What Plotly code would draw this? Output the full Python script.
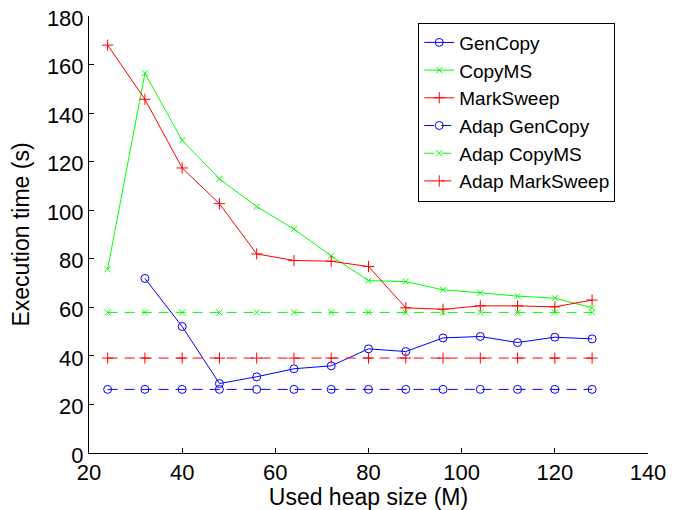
import plotly.graph_objects as go

heap = [24, 32, 40, 48, 56, 64, 72, 80, 88, 96, 104, 112, 120, 128]
gencopy_x = heap[1:]
gencopy = [71.9, 52.1, 28.6, 31.4, 34.7, 35.9, 42.9, 41.8, 47.4, 48.0, 45.5, 47.7, 47.0]
copyms = [75.7, 156.4, 128.8, 112.9, 101.5, 92.2, 81.2, 71.0, 70.6, 67.2, 66.0, 64.6, 63.8, 59.8]
marksweep = [168.0, 145.7, 117.4, 102.7, 82.0, 79.3, 79.0, 76.8, 59.8, 59.2, 60.6, 60.6, 60.2, 63.0]
adap_gencopy = [26.2] * len(heap)
adap_copyms = [57.9] * len(heap)
adap_marksweep = [39.1] * len(heap)

BLUE, GREEN, RED = "#0000ff", "#00ff00", "#ff0000"
DASH = "10px,7px"

series = [
    ("GenCopy", gencopy_x, gencopy, BLUE, "circle-open", "solid", 8),
    ("CopyMS", heap, copyms, GREEN, "x-thin-open", "solid", 6),
    ("MarkSweep", heap, marksweep, RED, "cross-thin-open", "solid", 8),
    ("Adap GenCopy", heap, adap_gencopy, BLUE, "circle-open", DASH, 8),
    ("Adap CopyMS", heap, adap_copyms, GREEN, "x-thin-open", DASH, 6),
    ("Adap MarkSweep", heap, adap_marksweep, RED, "cross-thin-open", DASH, 8),
]

fig = go.Figure()
for name, xs, ys, col, sym, dash, size in series:
    fig.add_trace(go.Scatter(
        x=xs, y=ys, name=name, mode="lines+markers",
        line=dict(color=col, width=1, dash=dash),
        marker=dict(symbol=sym, size=size, color=col, line=dict(color=col, width=1)),
    ))

FAM = "Liberation Sans, Arial, Helvetica, sans-serif"
tickfont = dict(family=FAM, size=22, color="black")
titlefont = dict(family=FAM, size=23, color="black")

# the page body has an 8px margin, so the figure is offset by 8px
fig.update_layout(
    width=672, height=502,
    margin=dict(l=81, r=32, t=8, b=57),
    paper_bgcolor="white", plot_bgcolor="white",
    font=tickfont,
    showlegend=True,
    legend=dict(
        x=0.589, y=0.985, xanchor="left", yanchor="top",
        bordercolor="black", borderwidth=1, bgcolor="white",
        font=dict(family=FAM, size=19, color="black"),
        tracegroupgap=0,
    ),
    xaxis=dict(
        range=[20, 140], tickvals=[20, 40, 60, 80, 100, 120, 140],
        showgrid=False, zeroline=False, showline=True, linecolor="black", linewidth=1,
        ticks="inside", ticklen=5, tickcolor="black", automargin=False,
        ticklabeloverflow="allow",
        title=dict(text="Used heap size (M)", standoff=6, font=titlefont),
        tickfont=tickfont,
    ),
    yaxis=dict(
        range=[0, 180], tickvals=list(range(0, 181, 20)),
        showgrid=False, zeroline=False, showline=True, linecolor="black", linewidth=1,
        ticks="inside", ticklen=5, tickcolor="black", automargin=False,
        ticklabeloverflow="allow", ticklabelshift=2,
        title=dict(text="Execution time (s)", standoff=10, font=titlefont),
        tickfont=tickfont,
    ),
)

fig.write_html("out.html")
